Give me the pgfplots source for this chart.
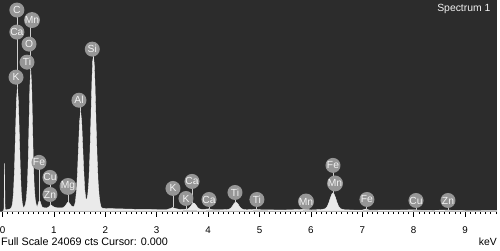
\documentclass[border=0pt]{standalone}
\usepackage{fontspec}
\setmainfont{Liberation Sans}
\usepackage{pgfplots}
\pgfplotsset{compat=1.18}
\definecolor{bgdark}{RGB}{44,44,44}
\definecolor{spec}{RGB}{234,234,234}
\definecolor{lblfill}{RGB}{150,150,150}
\definecolor{lbltext}{RGB}{242,242,242}
\definecolor{stemc}{RGB}{205,205,205}
\newcommand{\stem}[3]{\draw[stemc, line width=0.9pt] (axis cs:#1,#2) -- (axis cs:#1,#3);}
\newcommand{\foot}[1]{\draw[stemc, line width=1pt] (axis cs:#1,171) ++(-6pt,0) -- ++(12pt,0);}
\newcommand{\elab}[3]{\node[circle, fill=lblfill, text=lbltext, inner sep=0pt, minimum size=15pt, font=\fontsize{10.3}{11}\selectfont] at (axis cs:#1,#2) {#3};}
\begin{document}
\begin{tikzpicture}
\fill[white] (0,-38.5pt) rectangle (500pt,211.5pt);
\path[use as bounding box] (0,-38.5pt) rectangle (500pt,211.5pt);
\begin{axis}[
 at={(0,0)}, anchor=south west,
 scale only axis, width=497pt, height=211.5pt,
 xmin=-0.0486, xmax=9.621, ymin=0, ymax=24069,
 axis background/.style={fill=bgdark},
 axis x line*=bottom, axis y line=none,
 x axis line style={-, black, line width=0.8pt},
 xtick={0,1,2,3,4,5,6,7,8,9},
 minor xtick={0.1,0.2,...,9.6},
 tick align=outside, major tick length=5pt, minor tick length=2.5pt,
 every tick/.style={black, line width=0.6pt},
 xticklabel style={font=\fontsize{9.8}{10}\selectfont, anchor=base, yshift=-17pt},
 /pgf/number format/assume math mode=true,
]
\addplot[fill=spec, draw=spec, line width=0.4pt] table {
E c
-0.05 0
0.00 0
0.02 57
0.03 342
0.035 2281
0.04 5475
0.045 2281
0.05 342
0.06 171
0.10 228
0.15 285
0.1775 490
0.1963 947
0.215 2213
0.2338 4825
0.2525 8715
0.2713 12525
0.29 14145
0.3088 12525
0.3275 8715
0.3463 4825
0.365 2213
0.3838 947
0.4025 490
0.42 468
0.445 787
0.465 1437
0.485 3057
0.50 5669
0.516 9799
0.532 14179
0.55 16141
0.568 14179
0.584 9799
0.60 5669
0.615 3057
0.635 1437
0.655 787
0.675 468
0.69 798
0.705 1095
0.72 1255
0.735 1118
0.75 821
0.77 513
0.80 433
0.86 399
0.90 513
0.93 707
0.95 741
0.97 627
1.00 513
1.05 433
1.10 411
1.18 433
1.22 627
1.26 970
1.28 1084
1.30 970
1.34 627
1.38 513
1.40 684
1.42 1141
1.44 2350
1.46 4517
1.48 7415
1.50 10232
1.52 11407
1.54 10232
1.56 7415
1.58 4677
1.60 2475
1.62 1471
1.64 1357
1.66 1939
1.68 3422
1.70 6274
1.72 10381
1.74 14715
1.755 17111
1.77 17681
1.785 16768
1.80 14373
1.82 10038
1.84 6274
1.86 3376
1.88 1780
1.90 924
1.92 479
1.95 365
2.00 342
2.30 297
2.60 251
3.00 228
3.20 228
3.27 342
3.31 456
3.36 342
3.45 228
3.60 274
3.64 433
3.67 673
3.70 913
3.72 970
3.74 913
3.77 673
3.80 433
3.84 274
3.90 228
4.01 297
4.10 205
4.30 205
4.40 240
4.44 365
4.47 582
4.50 867
4.52 1004
4.54 1061
4.56 1004
4.58 867
4.61 582
4.64 365
4.68 240
4.75 194
4.93 251
5.05 183
5.50 171
5.90 251
6.00 171
6.20 228
6.28 308
6.32 582
6.35 1004
6.38 1563
6.41 2008
6.43 2110
6.45 2008
6.48 1563
6.51 1004
6.54 582
6.58 308
6.66 183
7.00 160
7.06 274
7.15 148
8.04 183
8.20 125
8.63 160
9.00 114
9.65 103
} \closedcycle;
% stems
\stem{0.295}{22928}{14145}
\stem{0.55}{21787}{16084}
\stem{1.77}{18479}{17681}
\stem{1.52}{12662}{11407}
\stem{0.71}{5589}{1255}
\stem{0.924}{3878}{741}
\stem{1.274}{2852}{1084}
\stem{3.317}{2624}{456}
\stem{3.69}{3422}{970}
\stem{3.57}{1483}{171}\foot{3.57}
\stem{4.018}{1369}{171}\foot{4.018}
\stem{4.523}{2167}{1061}
\stem{4.95}{1369}{171}\foot{4.95}
\stem{5.905}{1141}{171}\foot{5.905}
\stem{6.43}{5247}{2110}
\stem{7.09}{1369}{171}\foot{7.09}
\stem{8.045}{1255}{171}\foot{8.045}
\stem{8.667}{1255}{171}\foot{8.667}
% labels
\elab{0.28}{22928}{C}
\elab{0.574}{21787}{Mn}
\elab{0.28}{20419}{Ca}
\elab{0.516}{19050}{O}
\elab{0.477}{16996}{Ti}
\elab{0.263}{15285}{K}
\elab{1.747}{18479}{Si}
\elab{1.488}{12662}{Al}
\elab{0.71}{5589}{Fe}
\elab{0.924}{3878}{Cu}
\elab{1.274}{2852}{Mg}
\elab{0.924}{1939}{Zn}
\elab{3.317}{2624}{K}
\elab{3.687}{3422}{Ca}
\elab{3.57}{1483}{K}
\elab{4.018}{1369}{Ca}
\elab{4.523}{2167}{Ti}
\elab{4.95}{1369}{Ti}
\elab{5.905}{1141}{Mn}
\elab{6.43}{5247}{Fe}
\elab{6.47}{3194}{Mn}
\elab{7.09}{1369}{Fe}
\elab{8.045}{1255}{Cu}
\elab{8.667}{1255}{Zn}
\end{axis}
\node[anchor=base east, text=lbltext, font=\fontsize{10.4}{12}\selectfont] at (494pt,200.3pt) {Spectrum 1};
\node[anchor=base west, inner sep=0pt, font=\fontsize{10.8}{12}\selectfont] at (1pt,-34pt) {Full Scale 24069 cts Cursor: 0.000};
\node[anchor=base east, inner sep=0pt, font=\fontsize{10.4}{12}\selectfont] at (497pt,-33.5pt) {keV};
\end{tikzpicture}
\end{document}
